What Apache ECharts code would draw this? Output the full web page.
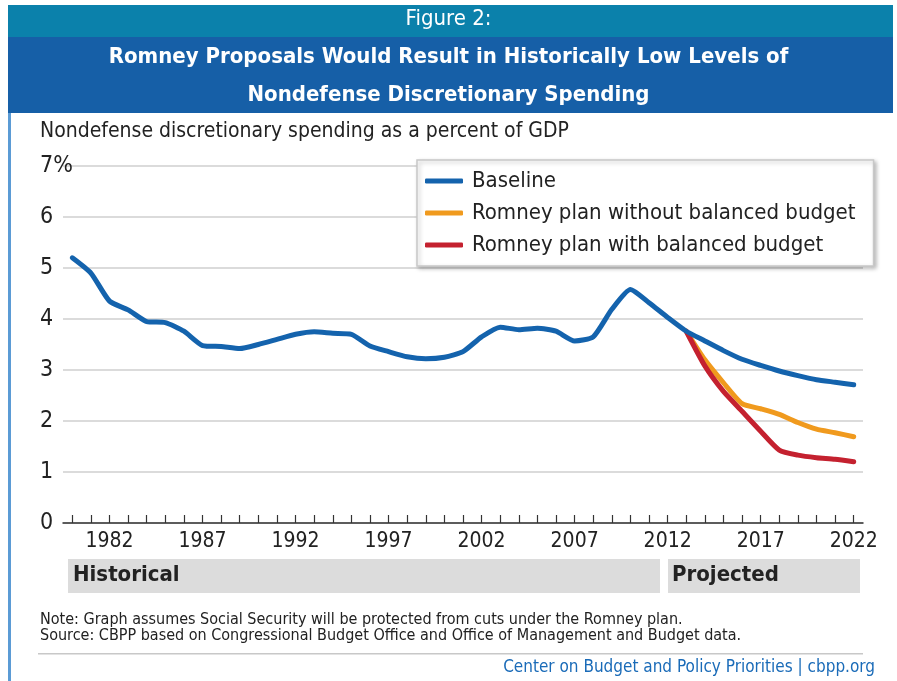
<!DOCTYPE html>
<html><head><meta charset="utf-8">
<script src="https://cdn.jsdelivr.net/npm/echarts@6/dist/echarts.min.js"></script>
<style>html,body{margin:0;padding:0;background:#fff}#c{width:897px;height:681px}</style>
</head><body><div id="c"></div>
<script>
var years = [];
for (var y = 1980; y <= 2022; y++) years.push(String(y));
var baseline = [5.2,4.9,4.35,4.18,3.95,3.93,3.76,3.48,3.46,3.42,3.5,3.6,3.7,3.75,3.72,3.7,3.47,3.36,3.26,3.22,3.25,3.36,3.65,3.84,3.79,3.82,3.76,3.57,3.65,4.19,4.58,4.32,4.03,3.76,3.57,3.38,3.21,3.09,2.98,2.89,2.81,2.76,2.71];
var noBalanced = [null,null,null,null,null,null,null,null,null,null,null,null,null,null,null,null,null,null,null,null,null,null,null,null,null,null,null,null,null,null,null,null,null,3.76,3.2,2.75,2.34,2.24,2.13,1.97,1.84,1.77,1.69];
var withBalanced = [null,null,null,null,null,null,null,null,null,null,null,null,null,null,null,null,null,null,null,null,null,null,null,null,null,null,null,null,null,null,null,null,null,3.76,3.08,2.58,2.19,1.8,1.43,1.33,1.28,1.25,1.2];
var seriesNames = ['Baseline','Romney plan without balanced budget','Romney plan with balanced budget'];
var yTicks = ['0','1','2','3','4','5','6','7%'];

var F = "'Liberation Sans Narrow','DejaVu Sans Condensed','Noto Sans',sans-serif";
var chart = echarts.init(document.getElementById('c'), null, {renderer:'canvas'});
chart.setOption({
  animation:false,
  textStyle:{fontFamily:F},
  color:['#1463ad','#f09a1e','#c4212f'],
  graphic:[
    {type:'rect', shape:{x:8,y:5,width:885,height:32}, style:{fill:'#0b81ab'}},
    {type:'rect', shape:{x:8,y:37,width:885,height:76}, style:{fill:'#165fa7'}},
    {type:'rect', shape:{x:8,y:113,width:3,height:568}, style:{fill:'#5b9bd5'}},
    {type:'text', left:'center', top:8, style:{text:'Figure 2:', fill:'#fff', font:"22px "+F}},
    {type:'text', left:'center', top:46, style:{text:'Romney Proposals Would Result in Historically Low Levels of', fill:'#fff', font:"bold 22px "+F}},
    {type:'text', left:'center', top:84, style:{text:'Nondefense Discretionary Spending', fill:'#fff', font:"bold 22px "+F}},
    {type:'text', left:40, top:121, style:{text:'Nondefense discretionary spending as a percent of GDP', fill:'#222', font:"21px "+F}},
    {type:'rect', shape:{x:68,y:559,width:592,height:34}, style:{fill:'#dcdcdc'}},
    {type:'rect', shape:{x:668,y:559,width:192,height:34}, style:{fill:'#dcdcdc'}},
    {type:'text', left:73, top:564, style:{text:'Historical', fill:'#222', font:"bold 22px "+F}},
    {type:'text', left:672, top:564, style:{text:'Projected', fill:'#222', font:"bold 22px "+F}},
    {type:'text', left:40, top:612, style:{text:'Note: Graph assumes Social Security will be protected from cuts under the Romney plan.\nSource: CBPP based on Congressional Budget Office and Office of Management and Budget data.', fill:'#222', font:"16px "+F, lineHeight:16}},
    {type:'rect', shape:{x:38,y:653,width:825,height:1.5}, style:{fill:'#c8c8c8'}},
    {type:'text', right:22, top:659, style:{text:'Center on Budget and Policy Priorities | cbpp.org', fill:'#1a6bb8', font:"17px "+F}}
  ],
  legend:{
    data:seriesNames, orient:'vertical', left:417, top:160,
    padding:[10,18,10,8], itemGap:10,
    itemWidth:38, itemHeight:5, icon:'roundRect',
    backgroundColor:'#fff', borderColor:'#c8c8c8', borderWidth:1.5,
    shadowColor:'rgba(0,0,0,0.25)', shadowBlur:4, shadowOffsetX:2, shadowOffsetY:2,
    textStyle:{fontSize:22, color:'#222', fontFamily:F, padding:[0,0,0,4]}
  },
  grid:{left:63, right:34, top:166, bottom:158, containLabel:false},
  xAxis:{
    type:'category', data:years, boundaryGap:true,
    axisLine:{lineStyle:{color:'#333', width:1.5}},
    axisTick:{show:true, inside:true, length:8, alignWithLabel:true, interval:0, lineStyle:{color:'#333', width:1.2}},
    axisLabel:{interval:function(i){return (i-2)%5===0;}, color:'#222', fontSize:21, margin:8, fontFamily:F},
    splitLine:{show:false}
  },
  yAxis:{
    type:'value', min:0, max:7, interval:1,
    axisLine:{show:false}, axisTick:{show:false},
    axisLabel:{formatter:function(v){return yTicks[v];}, align:'left', margin:23, color:'#222', fontSize:23, fontFamily:F},
    splitLine:{lineStyle:{color:'#cfcfcf', width:1.5}}
  },
  series:[
    {name:seriesNames[1], type:'line', data:noBalanced, z:2, smooth:0.2, symbol:'none', lineStyle:{width:5, color:'#f09a1e', cap:'round', join:'round'}, itemStyle:{color:'#f09a1e'}},
    {name:seriesNames[2], type:'line', data:withBalanced, z:3, smooth:0.2, symbol:'none', lineStyle:{width:5, color:'#c4212f', cap:'round', join:'round'}, itemStyle:{color:'#c4212f'}},
    {name:seriesNames[0], type:'line', data:baseline, z:4, smooth:0.2, symbol:'none', lineStyle:{width:5, color:'#1463ad', cap:'round', join:'round'}, itemStyle:{color:'#1463ad'}}
  ]
});
</script></body></html>
